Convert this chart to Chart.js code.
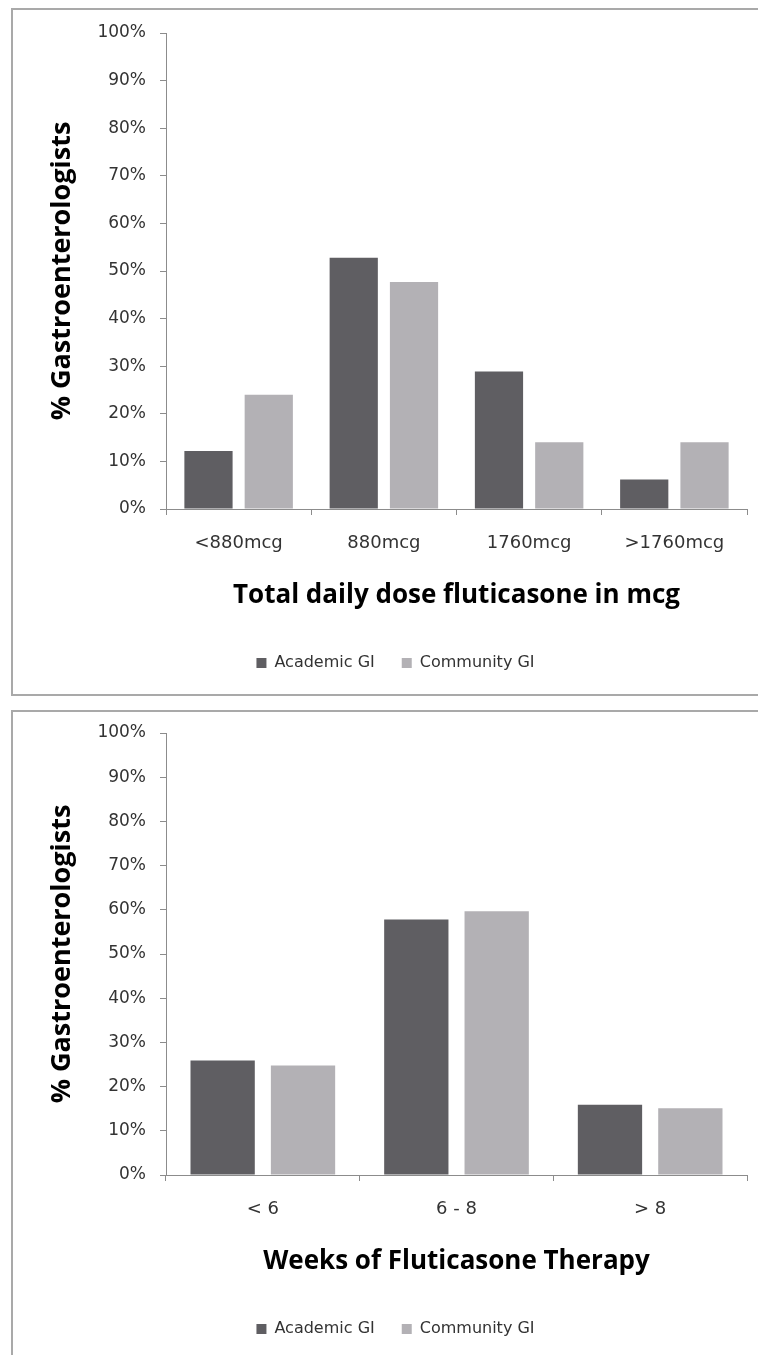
<!DOCTYPE html>
<html>
<head>
<meta charset="utf-8">
<script src="https://cdn.jsdelivr.net/npm/chart.js@4/dist/chart.umd.min.js"></script>
<style>
  html, body { margin: 0; padding: 0; background: #fff; overflow: hidden; width: 758px; height: 1355px; }
  .panel { position: absolute; left: 11px; width: 800px; border: 2px solid #a9a9a9; box-sizing: border-box; }
  .wrap { position: absolute; left: 0; width: 790px; }
</style>
</head>
<body>
<div class="panel" style="top:8px;height:688px"></div>
<div class="panel" style="top:710px;height:700px"></div>
<div class="wrap" style="top:0;height:681px"><canvas id="doseChart"></canvas></div>
<div class="wrap" style="top:700px;height:647px"><canvas id="weeksChart"></canvas></div>
<script>
const seriesNames = ['Academic GI', 'Community GI'];

const doseLabels = ['<880mcg', '880mcg', '1760mcg', '>1760mcg'];
const doseAcademic = [12.2, 52.8, 28.9, 6.2];
const doseCommunity = [24.0, 47.7, 14.0, 14.0];

const weekLabels = ['< 6', '6 - 8', '> 8'];
const weekAcademic = [25.9, 57.8, 15.9];
const weekCommunity = [24.8, 59.7, 15.1];

const yTicks = [0, 10, 20, 30, 40, 50, 60, 70, 80, 90, 100];

const dark = '#5f5e62';
const light = '#b3b1b5';
const axisGrey = '#8c8c8c';
const tickText = '#333333';

function makeChart(id, labels, academic, community, xTitle) {
  const ctx = document.getElementById(id);
  return new Chart(ctx, {
    type: 'bar',
    data: {
      labels,
      datasets: [
        { label: seriesNames[0], data: academic, backgroundColor: dark,
          categoryPercentage: 0.83, barPercentage: 0.8 },
        { label: seriesNames[1], data: community, backgroundColor: light,
          categoryPercentage: 0.83, barPercentage: 0.8 }
      ]
    },
    options: {
      responsive: true,
      maintainAspectRatio: false,
      animation: false,
      // left padding keeps the legend centred on the whole panel, like the original
      layout: { padding: { top: 33, left: 44, right: 43, bottom: 0 } },
      plugins: {
        tooltip: { enabled: false },
        legend: {
          position: 'bottom',
          labels: {
            boxWidth: 10, boxHeight: 10, padding: 27,
            color: '#333', font: { family: 'DejaVu Sans', size: 16 }
          }
        }
      },
      scales: {
        x: {
          afterFit(scale) { scale.height = 119; },
          grid: { display: true, drawOnChartArea: false, drawTicks: true, tickLength: 6, color: axisGrey, offset: true },
          border: { display: true, color: axisGrey, width: 1 },
          ticks: { color: tickText, padding: 18, font: { family: 'DejaVu Sans', size: 18 } },
          title: {
            display: true, text: xTitle, color: '#000',
            font: { family: 'Open Sans', size: 26, weight: 'bold' },
            padding: { top: 0, bottom: 17 }
          }
        },
        y: {
          min: 0, max: 100,
          afterFit(scale) { scale.width = 122; },
          afterBuildTicks(scale) { scale.ticks = yTicks.map(v => ({ value: v })); },
          grid: { display: true, drawOnChartArea: false, drawTicks: true, tickLength: 6, color: axisGrey },
          border: { display: true, color: axisGrey, width: 1 },
          ticks: {
            color: tickText, padding: 14,
            font: { family: 'DejaVu Sans', size: 17 },
            callback: v => v + '%'
          },
          title: {
            display: true, text: '% Gastroenterologists', color: '#000',
            font: { family: 'Open Sans', size: 27, weight: 'bold' },
            padding: { top: 2, bottom: 0 }
          }
        }
      }
    }
  });
}

makeChart('doseChart', doseLabels, doseAcademic, doseCommunity, 'Total daily dose fluticasone in mcg');
makeChart('weeksChart', weekLabels, weekAcademic, weekCommunity, 'Weeks of Fluticasone Therapy');
</script>
</body>
</html>
